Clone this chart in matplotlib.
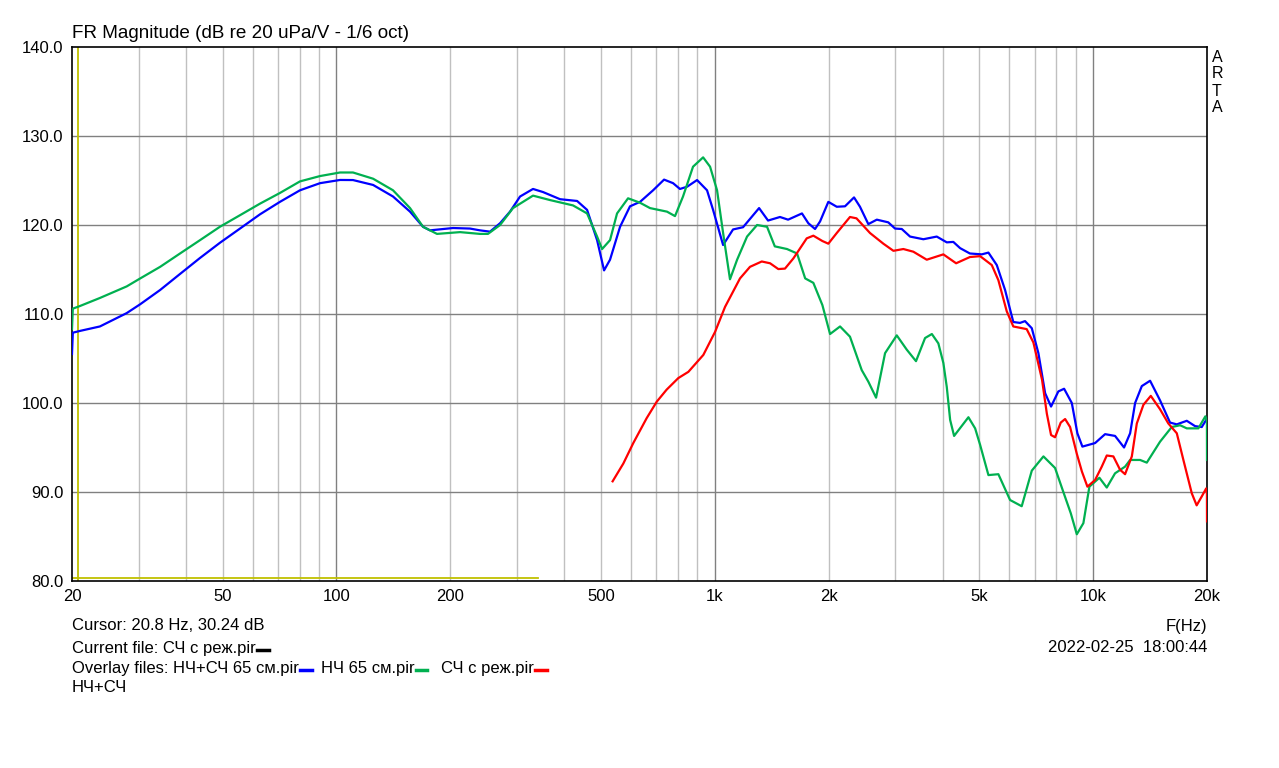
import matplotlib
matplotlib.use("Agg")
from matplotlib import pyplot as plt
from matplotlib.lines import Line2D
from matplotlib.ticker import FixedLocator, NullFormatter

plt.rcParams["font.family"] = ["Liberation Sans", "DejaVu Sans"]

# НЧ+СЧ 65 см (blue)
blue_f = [20, 20.1, 21.0, 23.7, 27.9, 30.3, 34.2, 38.6, 43.6, 49.2, 55.6, 62.8, 70.9, 80.1,
          90.5, 102.2, 110.6, 125.0, 141.1, 156.5, 169.4, 176.7, 203.3, 225.4, 239.5, 254.6,
          270.7, 287.6, 305.7, 330.8, 351.7, 389.9, 432.6, 459.7, 488.6, 509.8, 528.6, 561.9,
          597, 634.6, 687, 734.5, 775.8, 809, 844.9, 897.8, 954, 989.7, 1052, 1117.6, 1187.7,
          1309.5, 1383, 1487, 1562.5, 1700, 1767, 1841, 1898, 1996, 2101, 2209, 2334, 2420,
          2546, 2681, 2874, 2996, 3121, 3282, 3559, 3861, 4104, 4271, 4451, 4724, 5079, 5288,
          5564, 5852, 6153, 6410, 6607, 6886, 7168, 7468, 7742, 8093, 8382, 8784, 9087, 9368,
          10122, 10756, 11429, 12073, 12527, 12913, 13450, 14145, 15027, 15970, 16641, 17685,
          18600, 19372, 19900, 20000]
blue_db = [105.5, 107.9, 108.1, 108.6, 110.1, 111.1, 112.7, 114.5, 116.3, 118.0, 119.6, 121.2,
           122.6, 123.9, 124.7, 125.06, 125.05, 124.5, 123.2, 121.5, 119.8, 119.4, 119.66, 119.6,
           119.4, 119.25, 120.2, 121.5, 123.2, 124.05, 123.7, 122.9, 122.7, 121.7, 118.3, 114.9,
           116.1, 119.8, 122.1, 122.6, 123.9, 125.1, 124.7, 124.05, 124.3, 125.05, 123.9, 121.7,
           117.75, 119.5, 119.75, 121.9, 120.5, 120.9, 120.6, 121.3, 120.2, 119.55, 120.4, 122.6,
           122.05, 122.1, 123.1, 122.05, 120.1, 120.6, 120.3, 119.6, 119.55, 118.7, 118.4, 118.7,
           118.05, 118.1, 117.4, 116.8, 116.7, 116.9, 115.5, 112.7, 109.1, 109.0, 109.2, 108.4,
           105.6, 101.1, 99.6, 101.3, 101.6, 100.0, 96.6, 95.1, 95.5, 96.5, 96.3, 95.0, 96.6,
           100.0, 101.9, 102.5, 100.3, 97.8, 97.6, 98.0, 97.4, 97.3, 98.1, 98.3]

# НЧ 65 см (green)
green_f = [20, 20.1, 21.0, 23.7, 27.9, 30.3, 34.2, 38.6, 43.6, 49.2, 55.6, 62.8, 70.9, 80.1,
           90.5, 102.2, 110.6, 125.0, 141.1, 156.5, 169.4, 184.4, 212.2, 239.5, 251.5, 270.7,
           292.9, 330.8, 367, 422, 459.7, 488.6, 503.7, 528.6, 551.7, 589.9, 634.6, 674.2,
           747.7, 785, 824.2, 876, 931.5, 971.8, 1014, 1052, 1097, 1145.6, 1217, 1293.6, 1374.6,
           1441, 1552, 1650, 1733.6, 1822, 1925, 2017, 2143.6, 2277, 2445.5, 2546, 2669, 2819,
           3027, 3216, 3403, 3596, 3748, 3899, 4019.5, 4104, 4189, 4291, 4682, 4877, 5027, 5288,
           5618, 6033, 6476, 6886, 7391, 7932, 8343, 8731, 9055, 9425, 9777, 10390, 10867,
           11429, 12147, 12527, 13311, 13864, 15027, 16137, 16980, 17685, 18977, 19800, 19990,
           20000]
green_db = [108.3, 110.6, 110.9, 111.8, 113.1, 114.0, 115.3, 116.8, 118.3, 119.8, 121.1, 122.4,
            123.6, 124.9, 125.5, 125.9, 125.9, 125.2, 123.9, 121.9, 119.8, 119.0, 119.2, 119.0,
            119.0, 120.0, 121.9, 123.3, 122.8, 122.2, 121.3, 118.7, 117.3, 118.3, 121.3, 123.0,
            122.5, 121.9, 121.5, 121.0, 123.2, 126.55, 127.6, 126.55, 123.9, 119.1, 113.9, 116.1,
            118.7, 120.0, 119.8, 117.6, 117.3, 116.8, 114.0, 113.5, 111.0, 107.75, 108.6, 107.45,
            103.7, 102.4, 100.6, 105.6, 107.6, 106.0, 104.7, 107.3, 107.75, 106.7, 104.5, 101.8,
            98.1, 96.3, 98.4, 97.15, 95.3, 91.9, 92.0, 89.1, 88.4, 92.4, 94.0, 92.7, 90.0, 87.6,
            85.25, 86.5, 90.6, 91.6, 90.5, 92.1, 92.85, 93.6, 93.6, 93.3, 95.65, 97.3, 97.5,
            97.15, 97.15, 98.5, 98.0, 93.6]

# СЧ с реж. (red)
red_f = [537, 573.2, 609, 660.7, 702.5, 746, 801, 851.5, 932.7, 1002, 1064.5, 1166, 1239, 1331,
         1400, 1472, 1533, 1613.7, 1750, 1822, 1925, 1996, 2101, 2277, 2369, 2572, 2790, 2966,
         3151, 3348.5, 3633, 4019.5, 4344, 4724, 5027, 5397, 5618, 5912, 6153, 6675, 6953, 7329,
         7546, 7742, 7932, 8212, 8434, 8693, 9055, 9341, 9659, 10122, 10541, 10867, 11311,
         11783, 12147, 12657, 13047, 13582, 14206, 15027, 15806, 16641, 17323, 18232, 18780,
         19372, 19900, 19990, 20000]
red_db = [91.2, 93.2, 95.5, 98.3, 100.15, 101.5, 102.8, 103.5, 105.4, 108.0, 110.8, 114.0, 115.3,
          115.9, 115.7, 115.05, 115.1, 116.25, 118.5, 118.8, 118.2, 117.9, 119.1, 120.9, 120.75,
          119.1, 117.9, 117.1, 117.3, 117.0, 116.1, 116.7, 115.7, 116.4, 116.5, 115.5, 113.8,
          110.3, 108.6, 108.3, 106.8, 102.6, 98.8, 96.4, 96.15, 97.8, 98.2, 97.3, 94.3, 92.3,
          90.6, 91.35, 92.85, 94.1, 94.0, 92.5, 92.0, 94.0, 97.7, 99.8, 100.8, 99.3, 97.7, 96.6,
          93.6, 89.85, 88.5, 89.5, 90.4, 90.2, 86.7]

# cursor
cursor_f = 20.8
cursor_db = 80.3
cursor_end_f = 340

x_ticks = [20, 50, 100, 200, 500, 1000, 2000, 5000, 10000, 20000]
x_labels = ["20", "50", "100", "200", "500", "1k", "2k", "5k", "10k", "20k"]
major_grid = [100, 1000, 10000]
minor_grid = ([k * 10 for k in range(3, 10)] + [k * 100 for k in range(2, 10)]
              + [k * 1000 for k in range(2, 10)])
y_ticks = [80, 90, 100, 110, 120, 130, 140]

W, H = 1279, 768
fig = plt.figure(figsize=(W / 100, H / 100), dpi=100)
ax = fig.add_axes([72 / W, 1 - 581 / H, (1207 - 72) / W, (581 - 47) / H])

ax.set_xscale("log")
ax.set_xlim(20, 20000)
ax.set_ylim(80, 140)

for f in minor_grid:
    if f not in major_grid:
        ax.axvline(f, color="#c0c0c0", lw=1.0, zorder=0)
for f in major_grid:
    ax.axvline(f, color="#808080", lw=1.0, zorder=0)
for y in y_ticks[1:-1]:
    ax.axhline(y, color="#808080", lw=1.0, zorder=0)

ax.axvline(cursor_f, color="#c0c000", lw=1.3, zorder=1)
ax.plot([20, cursor_end_f], [cursor_db, cursor_db], color="#c0c000", lw=1.3, zorder=1)

ax.plot(blue_f, blue_db, color="#0000ff", lw=1.6, zorder=3)
ax.plot(green_f, green_db, color="#00b050", lw=1.6, zorder=3)
ax.plot(red_f, red_db, color="#ff0000", lw=1.6, zorder=4)

ax.xaxis.set_major_locator(FixedLocator(x_ticks))
ax.xaxis.set_minor_locator(FixedLocator([]))
ax.xaxis.set_minor_formatter(NullFormatter())
ax.set_xticks(x_ticks)
ax.set_xticklabels(x_labels)
ax.set_yticks(y_ticks)
ax.set_yticklabels(["%.1f" % y for y in y_ticks])
ax.tick_params(length=0, labelsize=12, pad=6)
for s in ax.spines.values():
    s.set_color("black")
    s.set_linewidth(1.2)

fs = 12
fig.text(72 / W, 1 - 33 / H, "FR Magnitude (dB re 20 uPa/V - 1/6 oct)", fontsize=13.6,
         va="center", ha="left")
for i, ch in enumerate("ARTA"):
    fig.text(1212 / W, 1 - (57 + 17 * i) / H, ch, fontsize=11.5, va="center", ha="left")

fig.text(72 / W, 1 - 626 / H, "Cursor: 20.8 Hz, 30.24 dB", fontsize=fs, va="center")
fig.text(1207 / W, 1 - 626 / H, "F(Hz)", fontsize=fs, va="center", ha="right")
fig.text(1207 / W, 1 - 648 / H, "2022-02-25  18:00:44", fontsize=fs, va="center", ha="right")
fig.text(72 / W, 1 - 688 / H, "НЧ+СЧ", fontsize=fs, va="center")

fig.canvas.draw()
renderer = fig.canvas.get_renderer()


def text_with_dash(x_px, y_px, label, color):
    t = fig.text(x_px / W, 1 - y_px / H, label, fontsize=fs, va="center")
    bb = t.get_window_extent(renderer)
    x0 = bb.x1 + 1
    fig.add_artist(Line2D([x0 / W, (x0 + 12) / W], [1 - (y_px + 2) / H, 1 - (y_px + 2) / H],
                          color=color, lw=2.5, transform=fig.transFigure))
    return x0 + 12


text_with_dash(72, 648, "Current file: СЧ с реж.pir", "black")
x = text_with_dash(72, 668, "Overlay files: НЧ+СЧ 65 см.pir", "#0000ff")
x = text_with_dash(x + 9, 668, "НЧ 65 см.pir", "#00b050")
text_with_dash(x + 14, 668, "СЧ с реж.pir", "#ff0000")

fig.savefig("out.png", dpi=100)
